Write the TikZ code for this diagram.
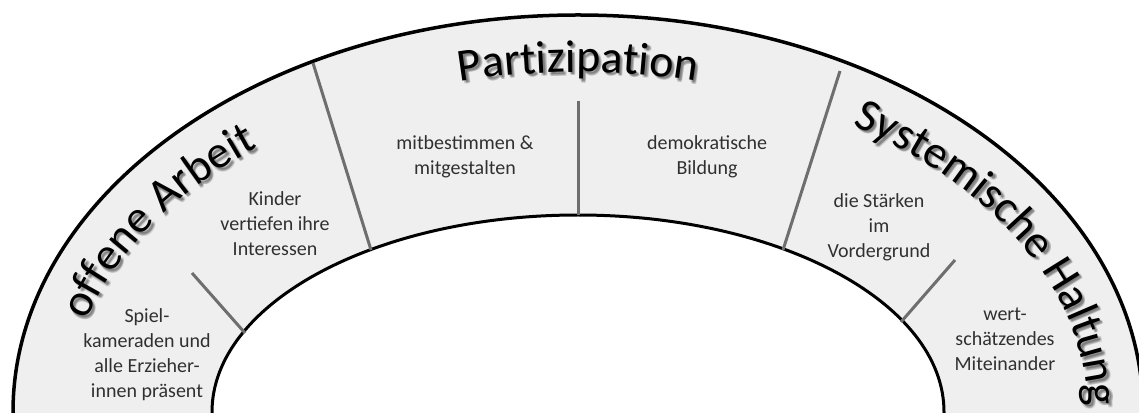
\documentclass[tikz,border=0pt]{standalone}
\usepackage{fontspec}
\setmainfont{Carlito}
\usetikzlibrary{decorations.text}
\definecolor{ringfill}{HTML}{EFEFEF}
\definecolor{divider}{HTML}{6E6E6E}
\definecolor{labeltext}{HTML}{303030}
\newcommand\bigarcfont{\fontsize{46}{46}\selectfont}
\newcommand\myarctext[3]{%
  \foreach \dx/\dy in {1.5/-1.5,2.5/-2.5,3.5/-3.5,2/-3.5,3.5/-2}{%
    \begin{scope}[opacity=0.12]
      \path[shift={(578+\dx,\dy)}, decorate, decoration={text along path, text align=center, text={|\bigarcfont\color{black}|#1}}]
        (#2:510 and 340) arc[start angle=#2, end angle=#3, x radius=510, y radius=340];
    \end{scope}}%
  \path[shift={(578,0)}, decorate, decoration={text along path, text align=center, text={|\bigarcfont\color{black}|#1}}]
    (#2:510 and 340) arc[start angle=#2, end angle=#3, x radius=510, y radius=340];
}
\begin{document}
\begin{tikzpicture}[x=1pt,y=1pt,
  lbl/.style={font=\fontsize{20}{25}\selectfont, text=labeltext, align=center, inner sep=0pt},
  divline/.style={draw=divider, line width=3pt},
  ringline/.style={draw=black, line width=3.5pt}]
\useasboundingbox (0,0) rectangle (1139,412);
\clip (0,0) rectangle (1139,412);
\coordinate (C) at (578,0);
% ring
\fill[ringfill, even odd rule] (C) ellipse [x radius=565, y radius=397] (C) ellipse [x radius=366, y radius=197];
\draw[ringline] (C) ellipse [x radius=565, y radius=397];
\draw[ringline, line width=3pt] (C) ellipse [x radius=366, y radius=197];
% divider end points
\coordinate (d1a) at (192,139); \coordinate (d1b) at (245,79);
\coordinate (d2a) at (313,349); \coordinate (d2b) at (371,162);
\coordinate (d3a) at (578,311); \coordinate (d3b) at (578,197);
\coordinate (d4a) at (840,341); \coordinate (d4b) at (783,162);
\coordinate (d5a) at (955,152); \coordinate (d5b) at (901,90);
\draw[divline] (d1a) -- (d1b);
\draw[divline] (d2a) -- (d2b);
\draw[divline] (d3a) -- (d3b);
\draw[divline] (d4a) -- (d4b);
\draw[divline] (d5a) -- (d5b);
% curved headings
\myarctext{offene Arbeit}{175}{121}
\myarctext{Partizipation}{120}{60}
\myarctext{Systemische Haltung}{65}{-9.5}
% labels
\node[lbl] (spiel) at (147,57) {Spiel-\\kameraden und\\alle Erzieher-\\innen präsent};
\node[lbl] (kinder) at (275,188) {Kinder\\vertiefen ihre\\Interessen};
\node[lbl] (mitbest) at (465,255.5) {mitbestimmen \&\\mitgestalten};
\node[lbl] (demo) at (707,255.5) {demokratische\\Bildung};
\node[lbl] (staerken) at (879,184.5) {die Stärken\\im\\Vordergrund};
\node[lbl] (wert) at (1005,73) {wert-\\schätzendes\\Miteinander};
\end{tikzpicture}
\end{document}
